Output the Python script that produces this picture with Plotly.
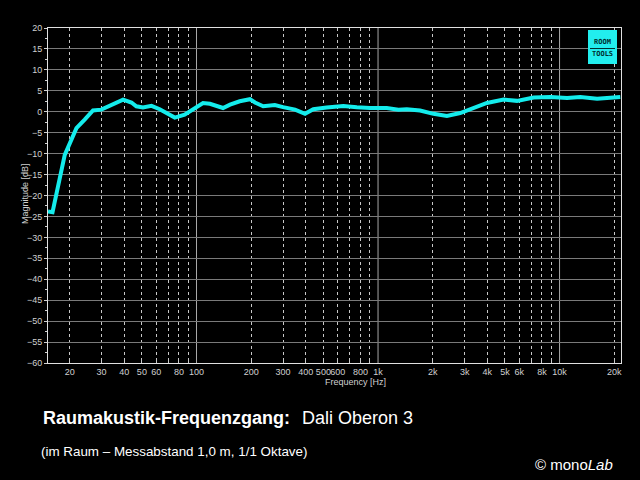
import numpy as np
import plotly.graph_objects as go

# ---- data ----
freq_hz = [15.2, 16.1, 18.8, 21.8, 24.2, 26.9, 29.9, 34, 39.4, 43.8, 46.6, 50.7, 56.5,
           62.7, 68, 75.9, 86, 95.7, 108.6, 118.5, 140, 153, 173, 197, 210, 233, 270,
           300, 349, 396, 440, 521, 644, 764, 904, 1117, 1295, 1440, 1705, 2020, 2395,
           2835, 3360, 3980, 4920, 5830, 7200, 8900, 11000, 13000, 16100, 21600]
magnitude_db = [-23.8, -24.0, -10.3, -3.9, -1.9, 0.3, 0.5, 1.7, 2.9, 2.2, 1.3, 1.0, 1.4,
                0.6, -0.3, -1.4, -0.7, 0.5, 2.1, 1.9, 0.9, 1.7, 2.5, 3.0, 2.2, 1.3, 1.6,
                1.1, 0.5, -0.5, 0.6, 1.0, 1.4, 1.1, 0.9, 0.9, 0.5, 0.6, 0.3, -0.5, -1.0,
                -0.3, 0.9, 2.1, 2.9, 2.6, 3.4, 3.5, 3.3, 3.5, 3.1, 3.5]

x_tick_vals = [20, 30, 40, 50, 60, 80, 100, 200, 300, 400, 500, 600, 800, 1000,
               2000, 3000, 4000, 5000, 6000, 8000, 10000, 20000]
x_tick_text = ["20", "30", "40", "50", "60", "80", "100", "200", "300", "400", "500",
               "600", "800", "1k", "2k", "3k", "4k", "5k", "6k", "8k", "10k", "20k"]
x_grid_vals = [m * d for d in (10, 100, 1000, 10000) for m in range(2, 10) if m * d <= 20000]
decade_vals = [100, 1000, 10000]
y_tick_vals = list(range(-60, 21, 5))
x_range_hz = [15.2, 21800]
y_range_db = [-60, 20]

fig = go.Figure()
fig.add_trace(go.Scatter(x=freq_hz, y=magnitude_db, mode="lines",
                         line=dict(color="#14ecec", width=4), hoverinfo="skip"))

for d in decade_vals:
    fig.add_shape(type="line", xref="x", yref="paper", x0=d, x1=d, y0=0, y1=1,
                  line=dict(color="#a8a8a8", width=1), layer="below")

font_main = "Liberation Sans, Arial, sans-serif"

fig.update_layout(
    width=640, height=480,
    paper_bgcolor="black", plot_bgcolor="black",
    margin=dict(l=48, r=19, t=28, b=117, autoexpand=False),
    showlegend=False,
    font=dict(family=font_main, color="#d8d8d8", size=9),
    xaxis=dict(
        type="log", range=[np.log10(x_range_hz[0]), np.log10(x_range_hz[1])],
        tickmode="array", tickvals=x_tick_vals, ticktext=x_tick_text,
        tickangle=0, automargin=False,
        showgrid=False, ticks="", tickfont=dict(size=9, color="#d0d0d0"),
        showline=True, linecolor="#e0e0e0", linewidth=1, mirror=True,
        zeroline=False,
        minor=dict(tickmode="array", tickvals=x_grid_vals, showgrid=True,
                   gridcolor="#c8c8c8", griddash="dot", gridwidth=1,
                   ticks="inside", ticklen=3, tickcolor="#c8c8c8"),
    ),
    yaxis=dict(
        range=y_range_db, tickmode="array", tickvals=y_tick_vals, automargin=False,
        showgrid=True, gridcolor="#7a7a7a", gridwidth=1,
        ticks="outside", ticklen=3, tickcolor="#d0d0d0",
        tickfont=dict(size=9, color="#d0d0d0"),
        showline=True, linecolor="#e0e0e0", linewidth=1, mirror=True,
        zeroline=False,
        minor=dict(dtick=2.5, ticks="outside", ticklen=2, tickcolor="#d0d0d0",
                   showgrid=False),
    ),
)

W = 573.0
H = 335.0
def px(x):
    return (x - 48) / W
def py(y):
    return (363 - y) / H

anns = [
    dict(text="Magnitude [dB]", x=px(25), y=py(194), textangle=-90,
         font=dict(size=9, color="#d0d0d0")),
    dict(text="Frequency [Hz]", x=px(355), y=py(382),
         font=dict(size=9, color="#d0d0d0")),
    dict(text="<b>Raumakustik-Frequenzgang:</b>", x=px(41), y=py(417.5), xanchor="left",
         font=dict(size=18, color="white")),
    dict(text="Dali Oberon 3", x=px(300), y=py(417.5), xanchor="left",
         font=dict(size=18, color="white")),
    dict(text="(im Raum \u2013 Messabstand 1,0 m, 1/1 Oktave)", x=px(39), y=py(451),
         xanchor="left", font=dict(size=13.4, color="white")),
    dict(text="\u00a9 mono<i>Lab</i>", x=px(615), y=py(464), xanchor="right",
         font=dict(size=15, color="white")),
    dict(text="<b>ROOM</b>", x=px(602), y=py(42.5), font=dict(size=7, color="#003030",
         family="DejaVu Sans Mono, monospace")),
    dict(text="<b>TOOLS</b>", x=px(602), y=py(54.5), font=dict(size=7, color="#003030",
         family="DejaVu Sans Mono, monospace")),
]
for a in anns:
    a.setdefault("xanchor", "center")
    fig.add_annotation(xref="paper", yref="paper", showarrow=False, yanchor="middle", **a)

fig.add_shape(type="rect", xref="paper", yref="paper", x0=px(588), x1=px(617),
              y0=py(64), y1=py(30), fillcolor="#22eeee", line=dict(width=0), layer="above")
fig.add_shape(type="line", xref="paper", yref="paper", x0=px(590), x1=px(615),
              y0=py(48.5), y1=py(48.5), line=dict(color="#003030", width=1), layer="above")

fig.write_html("out.html", config={"displayModeBar": False},
               post_script="document.body.style.margin='0';document.body.style.padding='0';")
